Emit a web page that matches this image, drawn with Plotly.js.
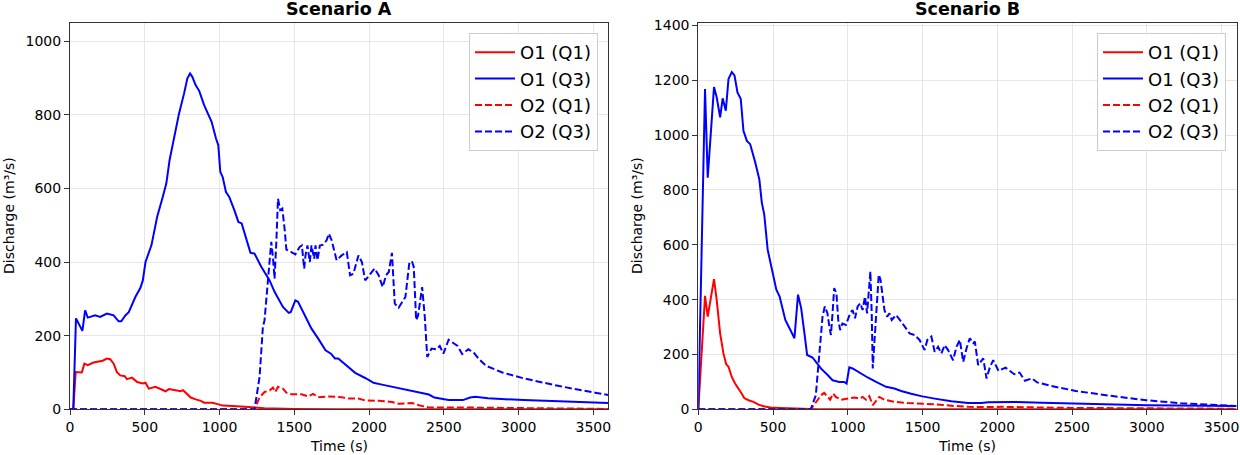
<!DOCTYPE html>
<html>
<head>
<meta charset="utf-8">
<script src="https://cdn.plot.ly/plotly-3.0.1.min.js"></script>
<style>html,body{margin:0;padding:0;background:#fff;}#chart{width:1240px;height:455px;}</style>
</head>
<body>
<div id="chart"></div>
<script>
// ---------- Scenario A ----------
const a_o1q1_t = [0, 22, 38, 79, 96, 119, 157, 191, 218, 247, 269, 292, 314, 336, 366, 381, 415, 449, 487, 505, 527, 572, 606, 639, 662, 707, 740, 756, 785, 808, 841, 875, 897, 953, 987, 1021, 1088, 1155, 1222, 1300, 1500, 1800, 3600];
const a_o1q1   = [0, 0, 101, 100, 124, 120, 127, 129, 132, 138, 136, 124, 101, 92, 90, 82, 86, 74, 70, 72, 56, 61, 54, 49, 55, 52, 49, 52, 40, 32, 27, 23, 18, 18, 14, 10, 9, 7, 5, 3, 1, 0, 0];

const a_o1q3_t = [0, 22, 40, 56, 83, 101, 119, 168, 202, 247, 292, 325, 343, 370, 393, 437, 471, 487, 505, 545, 583, 617, 644, 666, 689, 729, 763, 785, 803, 818, 841, 864, 897, 920, 947, 976, 992, 1005, 1021, 1043, 1065, 1099, 1126, 1148, 1178, 1207, 1234, 1279, 1335, 1368, 1424, 1463, 1476, 1507, 1525, 1570, 1615, 1660, 1709, 1745, 1772, 1794, 1851, 1907, 1974, 2030, 2086, 2153, 2243, 2310, 2400, 2437, 2532, 2628, 2676, 2711, 2795, 3034, 3273, 3600];
const a_o1q3   = [0, 0, 247, 233, 213, 269, 249, 255, 251, 260, 255, 239, 239, 255, 264, 305, 330, 350, 400, 446, 523, 572, 613, 677, 726, 803, 858, 899, 912, 903, 880, 865, 826, 803, 781, 736, 717, 645, 631, 590, 577, 541, 509, 505, 464, 425, 423, 387, 350, 319, 278, 262, 264, 296, 292, 255, 219, 192, 160, 151, 138, 138, 118, 99, 85, 72, 67, 61, 53, 49, 40, 32, 25, 25, 32, 34, 30, 25, 21, 17];

const a_o2q1_t = [0, 1234, 1268, 1301, 1335, 1357, 1373, 1391, 1424, 1447, 1480, 1548, 1593, 1626, 1660, 1727, 1817, 1862, 1929, 1974, 2064, 2153, 2198, 2288, 2333, 2400, 2600, 3000, 3600];
const a_o2q1   = [0, 0, 33, 47, 51, 59, 47, 61, 56, 45, 41, 41, 35, 42, 33, 35, 33, 29, 29, 24, 23, 20, 15, 17, 11, 5, 5, 3, 1];

const a_o2q3_t = [0, 1234, 1268, 1290, 1301, 1319, 1335, 1346, 1357, 1368, 1380, 1391, 1406, 1420, 1436, 1447, 1480, 1507, 1536, 1551, 1566, 1575, 1588, 1604, 1615, 1633, 1642, 1655, 1671, 1693, 1716, 1732, 1750, 1783, 1817, 1851, 1873, 1895, 1929, 1952, 1974, 2003, 2037, 2064, 2091, 2114, 2132, 2153, 2172, 2198, 2243, 2270, 2288, 2299, 2315, 2328, 2344, 2355, 2373, 2389, 2418, 2449, 2473, 2497, 2532, 2568, 2592, 2623, 2664, 2700, 2736, 2783, 2843, 2891, 3034, 3273, 3512, 3600];
const a_o2q3   = [0, 0, 88, 224, 242, 323, 414, 455, 414, 355, 455, 572, 541, 545, 487, 434, 427, 421, 441, 445, 382, 418, 445, 400, 445, 409, 445, 405, 445, 447, 459, 477, 459, 405, 418, 427, 364, 368, 418, 400, 350, 364, 382, 364, 332, 364, 373, 425, 287, 276, 305, 400, 400, 387, 242, 255, 305, 332, 250, 142, 165, 163, 172, 151, 189, 179, 172, 150, 163, 154, 136, 118, 109, 100, 84, 63, 45, 39];

// ---------- Scenario B ----------
const b_o1q1_t = [0, 45, 63, 83, 105, 123, 146, 168, 186, 202, 224, 246, 269, 291, 307, 336, 369, 403, 437, 482, 549, 638, 800, 3600];
const b_o1q1   = [0, 414, 338, 400, 475, 399, 277, 204, 165, 155, 118, 94, 76, 57, 41, 33, 27, 17, 11, 7, 5, 3, 0, 0];

const b_o1q3_t = [0, 45, 63, 83, 105, 123, 146, 163, 184, 202, 224, 242, 262, 284, 302, 325, 347, 381, 408, 425, 441, 464, 493, 522, 544, 582, 616, 643, 667, 688, 710, 728, 764, 786, 820, 865, 898, 943, 976, 992, 1010, 1032, 1077, 1133, 1189, 1223, 1256, 1312, 1357, 1424, 1491, 1581, 1693, 1805, 1894, 1939, 1973, 2006, 2100, 2300, 2600, 3000, 3600];
const b_o1q3   = [0, 1168, 845, 997, 1175, 1138, 1065, 1134, 1089, 1205, 1230, 1218, 1156, 1132, 1016, 979, 967, 900, 839, 753, 711, 582, 503, 436, 411, 326, 289, 259, 418, 369, 277, 198, 189, 173, 149, 125, 106, 100, 100, 94, 153, 149, 133, 116, 100, 91, 82, 76, 67, 57, 48, 39, 29, 23, 23, 26, 26, 28, 27, 24, 20, 15, 12];

const b_o2q1_t = [0, 752, 797, 820, 842, 864, 882, 902, 920, 954, 999, 1044, 1077, 1099, 1122, 1144, 1167, 1196, 1211, 1245, 1312, 1402, 1491, 1581, 1693, 1805, 1917, 2029, 2500, 3000, 3600];
const b_o2q1   = [0, 0, 33, 51, 60, 48, 35, 57, 45, 35, 38, 43, 39, 45, 35, 48, 15, 35, 45, 35, 27, 23, 21, 18, 13, 9, 8, 9, 5, 3, 2];

const b_o2q3_t = [0, 752, 786, 808, 831, 846, 864, 875, 887, 898, 909, 924, 936, 949, 964, 987, 1016, 1032, 1048, 1066, 1084, 1099, 1115, 1129, 1140, 1151, 1160, 1167, 1178, 1194, 1207, 1219, 1234, 1245, 1263, 1279, 1294, 1323, 1357, 1391, 1413, 1447, 1480, 1514, 1532, 1559, 1581, 1604, 1626, 1648, 1671, 1704, 1727, 1749, 1772, 1794, 1816, 1839, 1850, 1872, 1906, 1928, 1951, 1973, 2008, 2055, 2114, 2149, 2185, 2232, 2267, 2361, 2525, 2760, 2995, 3230, 3465, 3600];
const b_o2q3   = [0, 0, 51, 179, 338, 375, 350, 308, 271, 350, 442, 423, 326, 289, 313, 308, 350, 362, 332, 375, 387, 362, 411, 350, 423, 503, 350, 149, 244, 399, 491, 472, 399, 362, 338, 350, 326, 344, 320, 295, 277, 271, 253, 216, 253, 265, 210, 228, 204, 234, 216, 179, 228, 253, 173, 222, 259, 241, 247, 161, 186, 112, 155, 179, 140, 152, 128, 134, 104, 113, 98, 85, 67, 49, 33, 22, 16, 12];

const seriesNames = ["O1 (Q1)", "O1 (Q3)", "O2 (Q1)", "O2 (Q3)"];
const panelTitles = ["Scenario A", "Scenario B"];
const xTitle = "Time (s)";
const yTitle = "Discharge (m³/s)";

const RED = "#ff0000", BLUE = "#0000ff";
const FONT = "DejaVu Sans, sans-serif";
const DASH = "7px,3px";

function tr(x, y, name, color, dash, xa, ya, leg, grp) {
  return {x: x, y: y, name: name, type: "scatter", mode: "lines",
    line: {color: color, width: 2, dash: dash},
    xaxis: xa, yaxis: ya, legend: leg, legendgroup: grp, showlegend: true};
}

const data = [
  tr(a_o1q1_t, a_o1q1, seriesNames[0], RED, "solid", "x", "y", "legend", "a1"),
  tr(a_o1q3_t, a_o1q3, seriesNames[1], BLUE, "solid", "x", "y", "legend", "a2"),
  tr(a_o2q1_t, a_o2q1, seriesNames[2], RED, DASH, "x", "y", "legend", "a3"),
  tr(a_o2q3_t, a_o2q3, seriesNames[3], BLUE, DASH, "x", "y", "legend", "a4"),
  tr(b_o1q1_t, b_o1q1, seriesNames[0], RED, "solid", "x2", "y2", "legend2", "b1"),
  tr(b_o1q3_t, b_o1q3, seriesNames[1], BLUE, "solid", "x2", "y2", "legend2", "b2"),
  tr(b_o2q1_t, b_o2q1, seriesNames[2], RED, DASH, "x2", "y2", "legend2", "b3"),
  tr(b_o2q3_t, b_o2q3, seriesNames[3], BLUE, DASH, "x2", "y2", "legend2", "b4")
];

const W = 1240, H = 455;
const yDom = [(H - 409.3) / H, (H - 22.7) / H];

function xax(dom, anchor) {
  return {domain: dom, anchor: anchor, range: [0, 3600], dtick: 500, tick0: 0,
    showgrid: true, gridcolor: "#e6e6e6", gridwidth: 1, zeroline: false,
    showline: true, linecolor: "#333", linewidth: 1, mirror: true,
    ticks: "outside", ticklen: 5, tickwidth: 1, tickcolor: "#333",
    tickfont: {family: FONT, size: 14, color: "#000"}, automargin: false, fixedrange: true};
}
function yax(range, anchor) {
  return {domain: yDom, anchor: anchor, range: range, dtick: 200, tick0: 0,
    showgrid: true, gridcolor: "#e6e6e6", gridwidth: 1, zeroline: false,
    showline: true, linecolor: "#333", linewidth: 1, mirror: true,
    ticks: "outside", ticklen: 5, tickwidth: 1, tickcolor: "#333",
    tickfont: {family: FONT, size: 14, color: "#000"}, automargin: false, fixedrange: true};
}
function leg(xr) {
  return {x: xr, xanchor: "right", y: (H - 33) / H, yanchor: "top",
    bgcolor: "rgba(255,255,255,0.85)", bordercolor: "#cccccc", borderwidth: 1,
    font: {family: FONT, size: 18, color: "#000"}, tracegroupgap: 0,
    itemwidth: 40};
}

const aL = 70 / W, aR = 608.3 / W, bL = 698.3 / W, bR = 1236.5 / W;

const layout = {
  width: W, height: H,
  margin: {l: 0, r: 0, t: 0, b: 0},
  paper_bgcolor: "#fff", plot_bgcolor: "#fff",
  font: {family: FONT, size: 14, color: "#000"},
  xaxis: xax([aL, aR], "y"),
  yaxis: yax([0, 1050], "x"),
  xaxis2: xax([bL, bR], "y2"),
  yaxis2: yax([0, 1410], "x2"),
  legend: leg(598 / W),
  legend2: leg(1226 / W),
  annotations: [
    {text: "<b>" + panelTitles[0] + "</b>", xref: "paper", yref: "paper", x: (aL + aR) / 2, y: (H - 9) / H,
      xanchor: "center", yanchor: "middle", showarrow: false, font: {family: FONT, size: 17.5, color: "#000"}},
    {text: "<b>" + panelTitles[1] + "</b>", xref: "paper", yref: "paper", x: (bL + bR) / 2, y: (H - 9) / H,
      xanchor: "center", yanchor: "middle", showarrow: false, font: {family: FONT, size: 17.5, color: "#000"}},
    {text: xTitle, xref: "paper", yref: "paper", x: (aL + aR) / 2, y: (H - 446) / H,
      xanchor: "center", yanchor: "middle", showarrow: false, font: {family: FONT, size: 14, color: "#000"}},
    {text: xTitle, xref: "paper", yref: "paper", x: (bL + bR) / 2, y: (H - 446) / H,
      xanchor: "center", yanchor: "middle", showarrow: false, font: {family: FONT, size: 14, color: "#000"}},
    {text: yTitle, xref: "paper", yref: "paper", x: 9 / W, y: (H - 216) / H, textangle: -90,
      xanchor: "center", yanchor: "middle", showarrow: false, font: {family: FONT, size: 14, color: "#000"}},
    {text: yTitle, xref: "paper", yref: "paper", x: 637 / W, y: (H - 216) / H, textangle: -90,
      xanchor: "center", yanchor: "middle", showarrow: false, font: {family: FONT, size: 14, color: "#000"}}
  ]
};

Plotly.newPlot("chart", data, layout, {displayModeBar: false, staticPlot: true});
</script>
</body>
</html>
